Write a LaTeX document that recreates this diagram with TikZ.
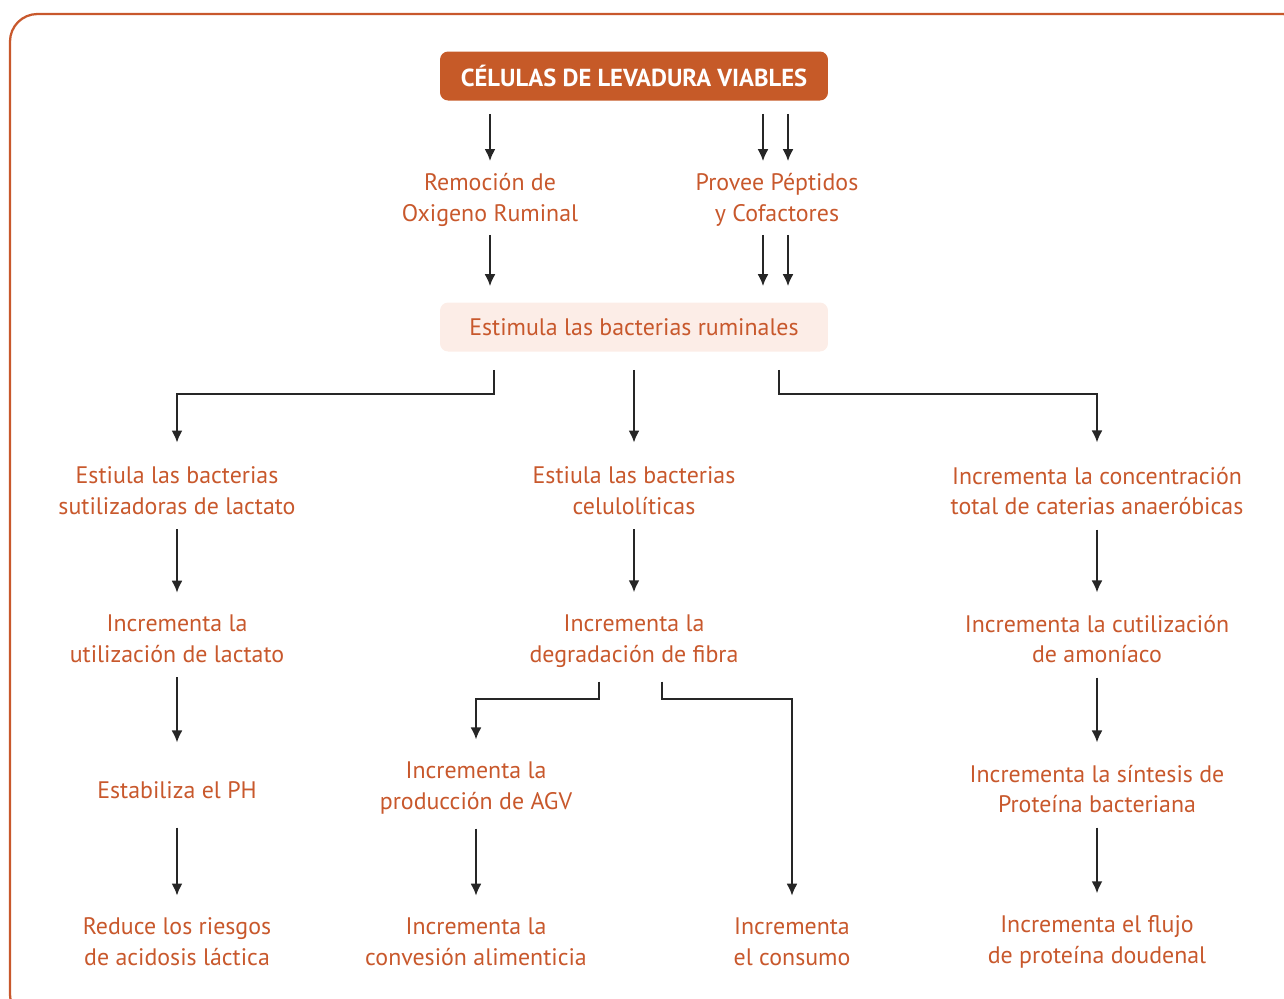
\documentclass[tikz,border=0pt]{standalone}
\usepackage{fontspec}
\setmainfont{PT Sans}
\usetikzlibrary{arrows.meta,positioning,calc}
\definecolor{levorange}{HTML}{C8582C}
\definecolor{levbox}{HTML}{C65A28}
\definecolor{levpink}{HTML}{FCEDE7}
\tikzset{
  txt/.style={text=levorange, align=center, inner xsep=0pt, inner ysep=0.16cm,
    font=\fontsize{13.6}{17.6}\selectfont},
  titbox/.style={fill=levbox, text=white, rounded corners=0.16cm, minimum width=7.76cm,
    minimum height=0.98cm, font=\fontsize{14}{18}\selectfont\bfseries},
  stimbox/.style={fill=levpink, text=levorange, rounded corners=0.16cm, minimum width=7.76cm,
    minimum height=0.98cm, font=\fontsize{13.6}{18}\selectfont},
  arr/.style={-{Latex[length=0.24cm,width=0.22cm]}, line width=0.04cm, black!85,
    shorten <=0.12cm, shorten >=0.28cm},
}
\begin{document}
\begin{tikzpicture}[x=0.02cm,y=-0.02cm]
  \useasboundingbox (0,0) rectangle (1284,998);
  \clip (0,0) rectangle (1284,998);
  % frame
  \draw[levorange, line width=0.045cm, rounded corners=0.55cm] (10,14) rectangle (1310,1022);

  % top part
  \node[titbox] (tit) at (634,76) {CÉLULAS DE LEVADURA VIABLES};
  \node[txt] (rem) at (490,200) {Remoción de\\Oxigeno Ruminal};
  \node[txt] (prov) at (777,200) {Provee Péptidos\\y Cofactores};
  \node[stimbox] (stim) at (634,327) {Estimula las bacterias ruminales};

  % row 2
  \node[txt] (lac) at (177,491) {Estiula las bacterias\\sutilizadoras de lactato};
  \node[txt] (cel) at (634,491) {Estiula las bacterias\\celulolíticas};
  \node[txt] (tot) at (1097,491) {Incrementa la concentración\\total de caterias anaeróbicas};

  % row 3
  \node[txt] (ulac) at (177,639) {Incrementa la\\utilización de lactato};
  \node[txt] (fib) at (634,641) {Incrementa la\\degradación de fibra};
  \node[txt] (amo) at (1097,639) {Incrementa la cutilización\\de amoníaco};

  % row 4
  \node[txt] (ph) at (177,790) {Estabiliza el PH};
  \node[txt] (agv) at (476,788) {Incrementa la\\producción de AGV};
  \node[txt] (sint) at (1097,789) {Incrementa la síntesis de\\Proteína bacteriana};

  % row 5
  \node[txt] (ries) at (177,942) {Reduce los riesgos\\de acidosis láctica};
  \node[txt] (conv) at (476,942) {Incrementa la\\convesión alimenticia};
  \node[txt] (cons) at (792,942) {Incrementa\\el consumo};
  \node[txt] (flujo) at (1097,942) {Incrementa el flujo\\de proteína doudenal};

  % arrows from the title
  \coordinate (pl) at ($(prov.north)+(-14,0)$);
  \coordinate (pr) at ($(prov.north)+(11,0)$);
  \coordinate (ql) at ($(prov.south)+(-14,0)$);
  \coordinate (qr) at ($(prov.south)+(11,0)$);
  \draw[arr, shorten <=0.26cm, shorten >=0.08cm] (rem |- tit.south) -- (rem.north);
  \draw[arr, shorten <=0.26cm, shorten >=0.08cm] (pl |- tit.south) -- (pl);
  \draw[arr, shorten <=0.26cm, shorten >=0.08cm] (pr |- tit.south) -- (pr);
  \draw[arr, shorten <=0pt, shorten >=0.32cm] (rem.south) -- (rem |- stim.north);
  \draw[arr, shorten <=0pt, shorten >=0.32cm] (ql) -- (ql |- stim.north);
  \draw[arr, shorten <=0pt, shorten >=0.32cm] (qr) -- (qr |- stim.north);

  % split below the stim box
  \coordinate (sl) at ($(stim.south)+(-140,0)$);
  \coordinate (sr) at ($(stim.south)+(145,0)$);
  \draw[arr, shorten <=0.36cm, shorten >=0.32cm] (sl) -- ++(0,42) -| (lac.north);
  \draw[arr, shorten <=0.36cm, shorten >=0.32cm] (stim.south) -- (cel.north);
  \draw[arr, shorten <=0.36cm, shorten >=0.32cm] (sr) -- ++(0,42) -| (tot.north);

  % left column
  \draw[arr] (lac.south) -- (ulac.north);
  \draw[arr] (ulac.south) -- (ulac.south |- sint.north);
  \draw[arr] (ph |- sint.south) -- (ph |- ries.north);

  % middle column
  \draw[arr] (cel.south) -- (fib.north);
  \coordinate (fl) at ($(fib.south)+(-35,0)$);
  \coordinate (fr) at ($(fib.south)+(28,0)$);
  \draw[arr] (fl) -- ++(0,23) -| (agv.north);
  \draw[arr] (fr) -- ++(0,23) -| (cons.north);
  \draw[arr] (agv.south) -- (conv.north);

  % right column
  \draw[arr] (tot.south) -- (amo.north);
  \draw[arr] (amo.south) -- (sint.north);
  \draw[arr] (sint.south) -- (flujo.north);
\end{tikzpicture}
\end{document}
